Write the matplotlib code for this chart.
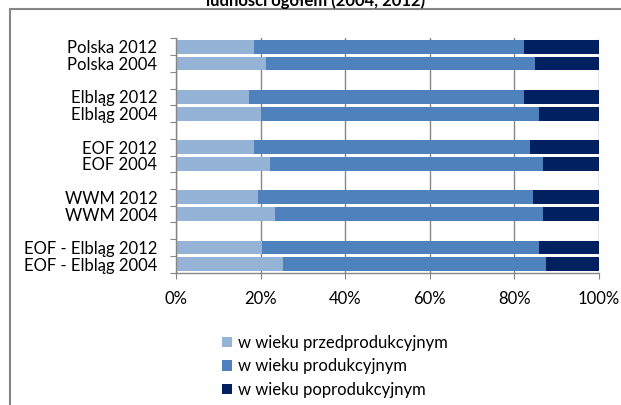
import matplotlib
matplotlib.use('Agg')
import matplotlib.pyplot as plt
from matplotlib.patches import Rectangle
import numpy as np

plt.rcParams['font.family'] = ['Lato', 'DejaVu Sans']

# dane (%)
labels = ['Polska 2012', 'Polska 2004', 'Elbląg 2012', 'Elbląg 2004',
          'EOF 2012', 'EOF 2004', 'WWM 2012', 'WWM 2004',
          'EOF - Elbląg 2012', 'EOF - Elbląg 2004']
pre = [18.4, 21.3, 17.3, 20.0, 18.4, 22.2, 19.3, 23.3, 20.3, 25.3]
prod = [63.9, 63.5, 65.0, 65.9, 65.3, 64.5, 65.1, 63.5, 65.5, 62.2]
post = [17.7, 15.2, 17.7, 14.1, 16.3, 13.3, 15.6, 13.2, 14.2, 12.5]
series = ['w wieku przedprodukcyjnym', 'w wieku produkcyjnym', 'w wieku poprodukcyjnym']
colors = ['#95B3D7', '#4F81BD', '#002060']
title = 'ludności ogółem (2004, 2012)'

W, H = 621, 405
fs = 12
grey = '#868686'

fig = plt.figure(figsize=(W / 100, H / 100), dpi=100)
ax = fig.add_axes([176 / W, 1 - 272.7 / H, 423 / W, 234.4 / H])

# pozycje: pary słupków z przerwą między grupami
ypos = np.array([i + i // 2 for i in range(len(labels))]) + 0.5
left = np.zeros(len(labels))
for vals, col, name in zip([pre, prod, post], colors, series):
    ax.barh(ypos, vals, left=left, height=0.82, color=col, label=name, zorder=2)
    left = left + np.array(vals)

ax.set_xlim(0, 100)
ax.set_ylim(14, 0)
ax.set_xticks(range(0, 101, 20))
ax.set_xticklabels([f'{v}%' for v in range(0, 101, 20)])
ax.xaxis.grid(True, color=grey, lw=1)
ax.set_axisbelow(True)
for s in ['top', 'right']:
    ax.spines[s].set_visible(False)
for s in ['left', 'bottom']:
    ax.spines[s].set_color(grey)
    ax.spines[s].set_linewidth(1)

ax.tick_params(axis='x', length=4, color=grey, pad=9.5, labelsize=fs, labelcolor='black')
ax.set_yticks(range(15))
ax.set_yticklabels([])
ax.tick_params(axis='y', which='major', length=4, color=grey)
ax.set_yticks(ypos, minor=True)
ax.set_yticklabels(labels, minor=True)
ax.tick_params(axis='y', which='minor', length=0, pad=13.5, labelsize=fs)

fig.legend(loc='upper left', bbox_to_anchor=(222 / W, 1 - 335 / H), frameon=False,
           fontsize=fs, borderpad=0, borderaxespad=0, handlelength=0.6,
           handleheight=0.6, handletextpad=0.35, labelspacing=0.45)

fig.text(316 / W, 1 - 6 / H, title, ha='center', va='baseline',
         fontsize=fs, fontweight='bold')

# ramka obszaru wykresu
fig.patches.append(Rectangle((10 / W, -0.1), 1.2, 1.1 - 9 / H, fill=False,
                             edgecolor=grey, lw=1.5, transform=fig.transFigure))

fig.savefig('out.png', dpi=100)
